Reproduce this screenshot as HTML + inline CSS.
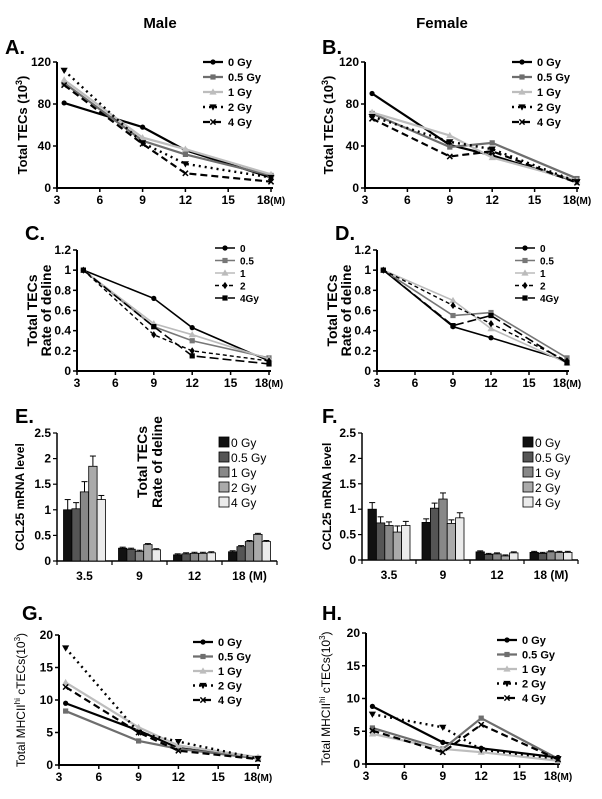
<!DOCTYPE html>
<html><head><meta charset="utf-8">
<style>
html,body{margin:0;padding:0;background:#fff;}
svg{display:block;font-family:"Liberation Sans",Arial,sans-serif;}
.b{font-weight:bold;}
</style></head>
<body>
<svg id="fig" width="602" height="799" viewBox="0 0 602 799" xmlns="http://www.w3.org/2000/svg">
<text x="160" y="28" text-anchor="middle" font-size="15" class="b">Male</text>
<text x="442" y="28" text-anchor="middle" font-size="15" class="b">Female</text>
</svg>
<script>
// ---- data ----
const months = [3.5, 9, 12, 18];
const doses = ["0 Gy", "0.5 Gy", "1 Gy", "2 Gy", "4 Gy"];
const dosesShort = ["0", "0.5", "1", "2", "4Gy"];
const aV0 = [81, 58, 36, 10];
const aV05 = [100, 45, 32, 12];
const aV1 = [103, 48, 37, 13];
const aV2 = [112, 43, 23, 10];
const aV4 = [98, 42, 14, 6];
const bV0 = [90, 41, 31, 6];
const bV05 = [71, 39, 43, 9];
const bV1 = [72, 50, 29, 7];
const bV2 = [68, 44, 37, 6];
const bV4 = [66, 30, 35, 5];
const cV0 = [1, 0.72, 0.43, 0.1];
const cV05 = [1, 0.44, 0.3, 0.13];
const cV1 = [1, 0.47, 0.36, 0.12];
const cV2 = [1, 0.36, 0.2, 0.1];
const cV4 = [1, 0.44, 0.15, 0.07];
const dV0 = [1, 0.44, 0.33, 0.1];
const dV05 = [1, 0.55, 0.58, 0.13];
const dV1 = [1, 0.7, 0.42, 0.08];
const dV2 = [1, 0.65, 0.47, 0.1];
const dV4 = [1, 0.45, 0.55, 0.08];
const gV0 = [9.5, 5.3, 2.6, 1.1];
const gV05 = [8.3, 3.7, 2.5, 1.0];
const gV1 = [12.7, 5.8, 3.0, 1.2];
const gV2 = [18, 5.0, 3.6, 1.0];
const gV4 = [12, 5.0, 2.2, 0.9];
const hV0 = [8.8, 3.3, 2.4, 1.0];
const hV05 = [5.5, 2.3, 7.0, 0.8];
const hV1 = [4.6, 2.3, 1.8, 0.5];
const hV2 = [7.6, 5.6, 2.2, 0.8];
const hV4 = [5.1, 1.8, 6.0, 0.7];
const barCats = ["3.5", "9", "12", "18 (M)"];
const eBars35 = [1.0, 1.02, 1.35, 1.85, 1.2];
const eBars9 = [0.25, 0.23, 0.19, 0.32, 0.22];
const eBars12 = [0.12, 0.14, 0.15, 0.15, 0.16];
const eBars18 = [0.18, 0.28, 0.38, 0.52, 0.38];
const eErr35 = [0.2, 0.12, 0.2, 0.2, 0.08];
const fBars35 = [1.0, 0.73, 0.68, 0.55, 0.68];
const fBars9 = [0.74, 1.02, 1.2, 0.72, 0.83];
const fBars12 = [0.16, 0.11, 0.12, 0.08, 0.14];
const fBars18 = [0.15, 0.13, 0.16, 0.15, 0.15];
const fErr35 = [0.13, 0.12, 0.07, 0.12, 0.08];
const fErr9 = [0.07, 0.1, 0.12, 0.07, 0.1];
const xTicks = [3, 6, 9, 12, 15, 18];
const ticksA = [0, 40, 80, 120];
const ticksC = [0, 0.2, 0.4, 0.6, 0.8, 1, 1.2];
const ticksE = [0, 0.5, 1, 1.5, 2, 2.5];
const ticksG = [0, 5, 10, 15, 20];

const NS = "http://www.w3.org/2000/svg";
const svg = document.getElementById("fig");
function mk(tag, attrs, parent, txt) {
  const e = document.createElementNS(NS, tag);
  for (const k in attrs) e.setAttribute(k, attrs[k]);
  if (txt !== undefined) e.textContent = txt;
  (parent || svg).appendChild(e);
  return e;
}
const styles = [
  {c: "#000", dash: "", m: "circle", w: 2.2},
  {c: "#6e6e6e", dash: "", m: "square", w: 2.2},
  {c: "#bdbdbd", dash: "", m: "tri", w: 2.2},
  {c: "#000", dash: "2 4", m: "tridown", w: 2.4},
  {c: "#000", dash: "7 4", m: "x", w: 2.2}
];
const stylesCD = [
  {c: "#000", dash: "", m: "circle", w: 1.6},
  {c: "#777", dash: "", m: "square", w: 1.6},
  {c: "#bbb", dash: "", m: "tri", w: 1.6},
  {c: "#000", dash: "4 3", m: "diamond", w: 1.4},
  {c: "#000", dash: "9 4", m: "square", w: 1.6}
];
function marker(g, m, x, y, c, s) {
  if (m === "circle") mk("circle", {cx: x, cy: y, r: s, fill: c}, g);
  else if (m === "square") mk("rect", {x: x - s, y: y - s, width: 2 * s, height: 2 * s, fill: c}, g);
  else if (m === "tri") mk("polygon", {points: `${x},${y - s - 1} ${x - s - 1},${y + s} ${x + s + 1},${y + s}`, fill: c}, g);
  else if (m === "tridown") mk("polygon", {points: `${x},${y + s + 1} ${x - s - 1},${y - s} ${x + s + 1},${y - s}`, fill: c}, g);
  else if (m === "diamond") mk("polygon", {points: `${x},${y - s - 1} ${x + s},${y} ${x},${y + s + 1} ${x - s},${y}`, fill: c}, g);
  else if (m === "x") { mk("line", {x1: x - s, y1: y - s, x2: x + s, y2: y + s, stroke: c, "stroke-width": 1.5}, g); mk("line", {x1: x - s, y1: y + s, x2: x + s, y2: y - s, stroke: c, "stroke-width": 1.5}, g); }
}
function lineChart(cfg) {
  const g = mk("g", {});
  
  
  const sx = v => cfg.x0 + (v - 3) / 15 * (cfg.x1 - cfg.x0);
  const sy = v => cfg.y0 - (v - 0) / cfg.ymax * (cfg.y0 - cfg.y1);
  const ax = mk("path", {d: `M${cfg.x0},${cfg.y1} V${cfg.y0} H${cfg.x1 + 2}`, stroke: "#000", "stroke-width": 2, fill: "none"}, g);
  
  
  cfg.yt.forEach(t => {
    mk("line", {x1: cfg.x0 - 4, x2: cfg.x0, y1: sy(t), y2: sy(t), stroke: "#000", "stroke-width": 1.5}, g);
    const tl = mk("text", {x: cfg.x0 - 6, y: sy(t) + 4, "text-anchor": "end", "font-size": cfg.fs, "font-weight": "bold"}, g, String(t));
    
    
  });
  xTicks.forEach(t => {
    mk("line", {x1: sx(t), x2: sx(t), y1: cfg.y0, y2: cfg.y0 + 4, stroke: "#000", "stroke-width": 1.5}, g);
    const tl = mk("text", {x: sx(t), y: cfg.y0 + 16, "text-anchor": "middle", "font-size": cfg.fs, "font-weight": "bold"}, g, String(t));
    
    
    if (t === 18) { mk("tspan", {"font-size": cfg.fs - 2}, tl, "(M)"); }
  });
  cfg.series.forEach((vals, i) => {
    const st = cfg.st[i];
    const pts = vals.map((v, j) => sx(months[j]) + "," + sy(v)).join(" ");
    const pl = mk("polyline", {points: pts, fill: "none", stroke: st.c, "stroke-width": st.w, "stroke-dasharray": st.dash}, g);
    
    
    vals.forEach((v, j) => marker(g, st.m, sx(months[j]), sy(v), st.c, 2.6));
  });
  cfg.labels.forEach((lb, i) => {
    const st = cfg.st[i];
    const y = cfg.ly + i * cfg.lstep;
    const le = mk("g", {}, g);
    
    
    mk("line", {x1: cfg.lx, x2: cfg.lx + 20, y1: y, y2: y, stroke: st.c, "stroke-width": st.w, "stroke-dasharray": st.dash}, le);
    marker(le, st.m, cfg.lx + 10, y, st.c, 2.6);
    mk("text", {x: cfg.lx + 25, y: y + 4, "font-size": cfg.lfs, "font-weight": "bold"}, le, lb);
  });
  const pl = mk("text", {x: cfg.px, y: cfg.py, "font-size": 20, "font-weight": "bold"}, g, cfg.letter);
  
  
  const yc = (cfg.y0 + cfg.y1) / 2;
  cfg.ytitle.forEach((t, k) => {
    const tx = cfg.tx + k * 14;
    const te = mk("text", {x: tx, y: yc, transform: `rotate(-90 ${tx} ${yc})`, "text-anchor": "middle", "font-size": cfg.tfs, "font-weight": cfg.tw || "bold"}, g);
    
    
    te.innerHTML = t;
  });
}
const tecTitle = ["Total TECs (10<tspan dy='-5' font-size='9'>3</tspan><tspan dy='5'>)</tspan>"];
const rateTitle = ["Total TECs", "Rate of deline"];
const mhcTitle = ["Total MHCII<tspan dy='-5' font-size='8'>hi</tspan><tspan dy='5'> cTECs(10</tspan><tspan dy='-5' font-size='8'>3</tspan><tspan dy='5'>)</tspan>"];
lineChart({name: "panel-a-chart", letter: "A.", px: 5, py: 54, x0: 57, x1: 271, y0: 188, y1: 62, ymax: 120, yt: ticksA, fs: 12, series: [aV0, aV05, aV1, aV2, aV4], st: styles, labels: doses, lx: 203, ly: 62, lstep: 15, lfs: 11, ytitle: tecTitle, tx: 27, tfs: 13});
lineChart({name: "panel-b-chart", letter: "B.", px: 322, py: 54, x0: 365, x1: 577, y0: 188, y1: 62, ymax: 120, yt: ticksA, fs: 12, series: [bV0, bV05, bV1, bV2, bV4], st: styles, labels: doses, lx: 512, ly: 62, lstep: 15, lfs: 11, ytitle: tecTitle, tx: 333, tfs: 13});
lineChart({name: "panel-c-chart", letter: "C.", px: 25, py: 240, x0: 77, x1: 269, y0: 371, y1: 250, ymax: 1.2, yt: ticksC, fs: 12, series: [cV0, cV05, cV1, cV2, cV4], st: stylesCD, labels: dosesShort, lx: 215, ly: 248, lstep: 12.5, lfs: 10, ytitle: rateTitle, tx: 37, tfs: 14});
lineChart({name: "panel-d-chart", letter: "D.", px: 335, py: 240, x0: 377, x1: 567, y0: 371, y1: 250, ymax: 1.2, yt: ticksC, fs: 12, series: [dV0, dV05, dV1, dV2, dV4], st: stylesCD, labels: dosesShort, lx: 515, ly: 248, lstep: 12.5, lfs: 10, ytitle: rateTitle, tx: 337, tfs: 14});
lineChart({name: "panel-g-chart", letter: "G.", px: 22, py: 620, x0: 59, x1: 258, y0: 765, y1: 635, ymax: 20, yt: ticksG, fs: 12, series: [gV0, gV05, gV1, gV2, gV4], st: styles, labels: doses, lx: 193, ly: 642, lstep: 14.5, lfs: 11, ytitle: mhcTitle, tx: 25, tfs: 12, tw: "normal"});
lineChart({name: "panel-h-chart", letter: "H.", px: 322, py: 620, x0: 366, x1: 558, y0: 764, y1: 633, ymax: 20, yt: ticksG, fs: 12, series: [hV0, hV05, hV1, hV2, hV4], st: styles, labels: doses, lx: 497, ly: 640, lstep: 14.5, lfs: 11, ytitle: mhcTitle, tx: 330, tfs: 12, tw: "normal"});

const barFills = ["#111", "#555", "#888", "#aaa", "#ebebeb"];
function barChart(cfg) {
  const g = mk("g", {});
  
  
  const sy = v => cfg.y0 - v / 2.5 * (cfg.y0 - cfg.y1);
  const ax = mk("path", {d: `M${cfg.x0},${cfg.y1} V${cfg.y0} H${cfg.x1}`, stroke: "#000", "stroke-width": 1.5, fill: "none"}, g);
  
  
  ticksE.forEach(t => {
    mk("line", {x1: cfg.x0 - 4, x2: cfg.x0, y1: sy(t), y2: sy(t), stroke: "#000", "stroke-width": 1.2}, g);
    const tl = mk("text", {x: cfg.x0 - 6, y: sy(t) + 4, "text-anchor": "end", "font-size": 12, "font-weight": "bold"}, g, String(t));
    
    
  });
  const gw = (cfg.x1 - cfg.x0) / barCats.length;
  for (let k = 0; k <= barCats.length; k++) mk("line", {x1: cfg.x0 + k * gw, x2: cfg.x0 + k * gw, y1: cfg.y0, y2: cfg.y0 + 4, stroke: "#000", "stroke-width": 1.2}, g);
  const bw = 8.4;
  cfg.groups.forEach((vals, k) => {
    const cx = cfg.x0 + (k + 0.5) * gw;
    const tl = mk("text", {x: cx, y: cfg.y0 + 19, "text-anchor": "middle", "font-size": 12, "font-weight": "bold"}, g, barCats[k]);
    
    
    vals.forEach((v, i) => {
      const x = cx - 2.5 * bw + i * bw;
      const err = cfg.errs[k] ? cfg.errs[k][i] : 0.02;
      const ytop = sy(v + err);
      mk("line", {x1: x + bw / 2, x2: x + bw / 2, y1: sy(v), y2: ytop, stroke: "#000", "stroke-width": 1}, g);
      mk("line", {x1: x + bw / 2 - 3, x2: x + bw / 2 + 3, y1: ytop, y2: ytop, stroke: "#000", "stroke-width": 1}, g);
      const r = mk("rect", {x: x, y: sy(v), width: bw, height: cfg.y0 - sy(v), fill: barFills[i], stroke: "#000", "stroke-width": 0.8}, g);
      
      
    });
  });
  doses.forEach((d, i) => {
    const y = cfg.ly + i * 15;
    const le = mk("g", {}, g);
    
    
    mk("rect", {x: cfg.lx, y: y - 5, width: 10, height: 10, fill: barFills[i], stroke: "#000", "stroke-width": 0.8}, le);
    mk("text", {x: cfg.lx + 12, y: y + 5, "font-size": 12}, le, i === 4 ? "4  Gy" : d);
  });
  const pl = mk("text", {x: cfg.px, y: cfg.py, "font-size": 20, "font-weight": "bold"}, g, cfg.letter);
  
  
  const yc = (cfg.y0 + cfg.y1) / 2;
  const te = mk("text", {x: cfg.tx, y: yc, transform: `rotate(-90 ${cfg.tx} ${yc})`, "text-anchor": "middle", "font-size": 12, "font-weight": "bold"}, g, "CCL25 mRNA level");
  
  
}
barChart({name: "panel-e-chart", letter: "E.", px: 15, py: 423, x0: 57, x1: 277, y0: 561, y1: 433, groups: [eBars35, eBars9, eBars12, eBars18], errs: [eErr35, null, null, null], lx: 219, ly: 442, tx: 24});
barChart({name: "panel-f-chart", letter: "F.", px: 322, py: 423, x0: 362, x1: 578, y0: 560, y1: 433, groups: [fBars35, fBars9, fBars12, fBars18], errs: [fErr35, fErr9, null, null], lx: 523, ly: 442, tx: 331});
const ov = mk("g", {});


mk("text", {x: 147, y: 462, transform: "rotate(-90 147 462)", "text-anchor": "middle", "font-size": 14, "font-weight": "bold"}, ov, "Total TECs");
mk("text", {x: 162, y: 462, transform: "rotate(-90 162 462)", "text-anchor": "middle", "font-size": 14, "font-weight": "bold"}, ov, "Rate of deline");
</script>
</body></html>
